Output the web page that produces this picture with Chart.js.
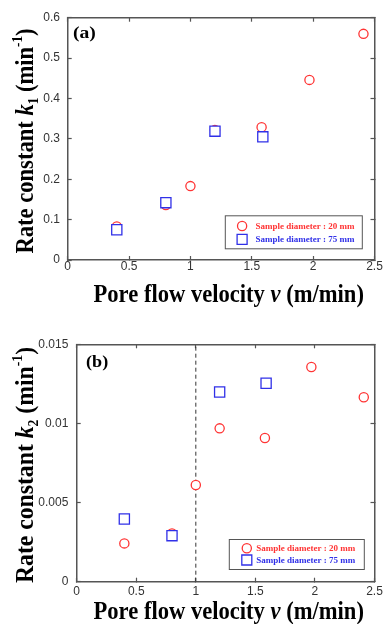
<!DOCTYPE html>
<html>
<head>
<meta charset="utf-8">
<script src="https://cdn.jsdelivr.net/npm/chart.js@4.4.1/dist/chart.umd.min.js"></script>
<style>
  html, body { margin: 0; padding: 0; background: #fff; }
  #wrap { position: relative; width: 383px; height: 624px; overflow: hidden; }
  canvas { position: absolute; left: 0; }
  .ttl {
    position: absolute; font-family: "Liberation Serif", "Times New Roman", serif;
    font-weight: bold; color: #000; white-space: nowrap; line-height: 1;
    transform-origin: center center;
  }
  .ttl sub, .ttl sup { font-size: 0.58em; vertical-align: baseline; position: relative; line-height: 0; }
  .ttl sub { top: 0.3em; }
  .ttl sup { top: -0.72em; }
</style>
</head>
<body>
<div id="wrap">
  <canvas id="chartA" width="383" height="310" style="top:0"></canvas>
  <canvas id="chartB" width="383" height="314" style="top:310px"></canvas>

  <div class="ttl" data-kind="x" data-cx="228" data-base="301.7" data-len="270" style="font-size:25px">Pore flow velocity <i>v</i> (m/min)</div>
  <div class="ttl" data-kind="y" data-cy="140.5" data-base="33.3" data-len="225" style="font-size:26px">Rate constant <i>k</i><sub>1</sub> (min<sup>-1</sup>)</div>
  <div class="ttl" data-kind="p" data-x="73.3" data-base="38.5" data-len="23.3" style="font-size:16px">(a)</div>

  <div class="ttl" data-kind="x" data-cx="228" data-base="619" data-len="270" style="font-size:25px">Pore flow velocity <i>v</i> (m/min)</div>
  <div class="ttl" data-kind="y" data-cy="465" data-base="33.3" data-len="236" style="font-size:26px">Rate constant <i>k</i><sub>2</sub> (min<sup>-1</sup>)</div>
  <div class="ttl" data-kind="p" data-x="86" data-base="367.5" data-len="22" style="font-size:16.5px">(b)</div>
</div>
<script>
// values
const velocity20 = [0.4, 0.8, 1.0, 1.2, 1.58, 1.97, 2.41]
const velocity75 = [0.4, 0.8, 1.2, 1.59]
const k1Dia20 = [0.083, 0.136, 0.183, 0.322, 0.329, 0.446, 0.560]
const k1Dia75 = [0.075, 0.142, 0.319, 0.305]
const k2Dia20 = [0.00242, 0.00305, 0.00611, 0.00969, 0.00908, 0.01357, 0.01165]
const k2Dia75 = [0.00396, 0.00291, 0.01199, 0.01254]
const thresholdVelocity = 1.0

const velocityTicks = [0, 0.5, 1, 1.5, 2, 2.5]
const velocityTickLabels = ["0", "0.5", "1", "1.5", "2", "2.5"]
const k1Ticks = [0, 0.1, 0.2, 0.3, 0.4, 0.5, 0.6]
const k1TickLabels = ["0", "0.1", "0.2", "0.3", "0.4", "0.5", "0.6"]
const k2Ticks = [0, 0.005, 0.01, 0.015]
const k2TickLabels = ["0", "0.005", "0.01", "0.015"]

const seriesLabels = ["Sample diameter : 20 mm", "Sample diameter : 75 mm"]
const seriesColors = ["#ff3434", "#3030e8"]
const seriesStyles = ["circle", "rect"]

const pts = (xs, ys) => xs.map((x, i) => ({x: x, y: ys[i]}))

// legend box drawn inside the plot area
const legendBox = {
  id: "legendBox",
  afterDraw(chart) {
    const o = chart.options.plugins.legendBox
    const {ctx, chartArea} = chart
    const left = chartArea.right - o.right
    const top = chartArea.bottom - o.bottom
    ctx.save()
    ctx.fillStyle = "#fff"
    ctx.fillRect(left, top, o.width, o.height)
    ctx.strokeStyle = "#555"
    ctx.lineWidth = 1
    ctx.strokeRect(left + 0.5, top + 0.5, o.width, o.height)
    seriesLabels.forEach((label, i) => {
      const mx = left + o.markerX
      const my = top + o.rows[i]
      ctx.strokeStyle = seriesColors[i]
      ctx.lineWidth = 1.3
      ctx.beginPath()
      if (seriesStyles[i] === "circle") ctx.arc(mx, my, 4.6, 0, Math.PI * 2)
      else ctx.rect(mx - 5, my - 5, 10, 10)
      ctx.stroke()
      ctx.fillStyle = seriesColors[i]
      ctx.font = "bold 9px 'Liberation Serif'"
      ctx.textBaseline = "middle"
      ctx.fillText(label, left + o.textX, my + 0.5)
    })
    ctx.restore()
  }
}

function axis(position, min, max, ticks, labels, size, pad, showLabels) {
  return {
    type: "linear", position: position, min: min, max: max,
    afterBuildTicks: s => { s.ticks = ticks.map(v => ({value: v})) },
    afterFit: s => {
      if (position === "top" || position === "bottom") s.height = size
      else s.width = size
      s.paddingLeft = s.paddingRight = s.paddingTop = s.paddingBottom = 0
    },
    border: {display: true, color: "#555", width: 1.5},
    grid: {drawOnChartArea: false, drawTicks: true, tickLength: -4, tickColor: "#555", tickWidth: 1.2},
    ticks: {
      display: showLabels, padding: pad, autoSkip: false, maxRotation: 0,
      color: "#333", font: {family: "'Liberation Sans', Arial", size: 12},
      callback: (v, i) => labels[i]
    }
  }
}

function makeChart(id, cfg) {
  const datasets = [
    {
      label: seriesLabels[1], data: pts(velocity75, cfg.y75), order: 0,
      pointStyle: "rect", pointRadius: 7.2, pointHoverRadius: 7.2, pointBorderWidth: 1.3,
      borderColor: seriesColors[1], backgroundColor: "#fff", showLine: false
    },
    {
      label: seriesLabels[0], data: pts(velocity20, cfg.y20), order: 1,
      pointStyle: "circle", pointRadius: 4.6, pointHoverRadius: 4.6, pointBorderWidth: 1.3,
      borderColor: seriesColors[0], backgroundColor: "#fff", showLine: false
    }
  ]
  if (cfg.dashed) {
    datasets.push({
      type: "line", label: "threshold", order: 2,
      data: [{x: thresholdVelocity, y: cfg.yMin}, {x: thresholdVelocity, y: cfg.yMax}],
      borderColor: "#333", borderWidth: 1, borderDash: [4, 3], pointRadius: 0, fill: false
    })
  }
  return new Chart(document.getElementById(id), {
    type: "scatter",
    data: {datasets: datasets},
    options: {
      responsive: false, animation: false, devicePixelRatio: 1,
      layout: {padding: cfg.padding},
      plugins: {
        legend: {display: false}, tooltip: {enabled: false},
        legendBox: cfg.legend
      },
      scales: {
        x: axis("bottom", 0, 2.5, velocityTicks, velocityTickLabels, cfg.xSize, cfg.xPad, true),
        x2: axis("top", 0, 2.5, velocityTicks, velocityTickLabels, 0, 0, false),
        y: axis("left", cfg.yMin, cfg.yMax, cfg.yTicks, cfg.yLabels, 60, cfg.yPad, true),
        y2: axis("right", cfg.yMin, cfg.yMax, cfg.yTicks, cfg.yLabels, 0, 0, false)
      }
    },
    plugins: [legendBox]
  })
}

makeChart("chartA", {
  y20: k1Dia20, y75: k1Dia75, yMin: 0, yMax: 0.6, yTicks: k1Ticks, yLabels: k1TickLabels,
  padding: {left: 7.7, right: 7.3, top: 17.7, bottom: 26},
  xSize: 24, xPad: 3.5, yPad: 11.7, dashed: false,
  legend: {right: 149.7, bottom: 44.7, width: 137, height: 33, markerX: 17.3, textX: 30.7, rows: [10.7, 24]}
})

makeChart("chartB", {
  y20: k2Dia20, y75: k2Dia75, yMin: 0, yMax: 0.015, yTicks: k2Ticks, yLabels: k2TickLabels,
  padding: {left: 16.7, right: 5.3, top: 34.3, bottom: 12.3},
  xSize: 30, xPad: 7.1, yPad: 12.4, dashed: true,
  legend: {right: 145.7, bottom: 42.7, width: 135, height: 30, markerX: 18, textX: 27.5, rows: [9.3, 21]}
})

// place and fit the serif titles
document.querySelectorAll(".ttl").forEach(el => {
  const fs = parseFloat(el.style.fontSize)
  const w = el.offsetWidth
  const h = el.offsetHeight
  const s = parseFloat(el.dataset.len) / w
  const base = parseFloat(el.dataset.base)
  if (el.dataset.kind === "y") {
    const cx = base - 0.3375 * fs
    const cy = parseFloat(el.dataset.cy)
    el.style.left = (cx - w / 2) + "px"
    el.style.top = (cy - h / 2) + "px"
    el.style.transform = "rotate(-90deg) scaleX(" + s + ")"
  } else if (el.dataset.kind === "x") {
    el.style.left = (parseFloat(el.dataset.cx) - w / 2) + "px"
    el.style.top = (base - 0.8375 * fs) + "px"
    el.style.transform = "scaleX(" + s + ")"
  } else {
    el.style.transformOrigin = "left center"
    el.style.left = el.dataset.x + "px"
    el.style.top = (base - 0.8375 * fs) + "px"
    el.style.transform = "scaleX(" + s + ")"
  }
})
</script>
</body>
</html>
